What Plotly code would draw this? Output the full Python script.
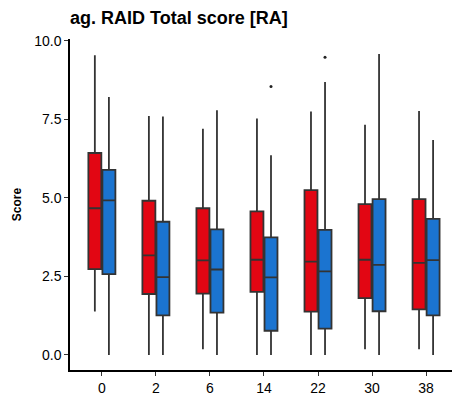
import plotly.graph_objects as go

categories = ["0", "2", "6", "14", "22", "30", "38"]

# Red series (first group)
red_low = [1.38, 0.0, 0.18, 0.0, 0.0, 0.18, 0.18]
red_q1 = [2.73, 1.94, 1.95, 2.01, 1.38, 1.81, 1.45]
red_med = [4.67, 3.17, 3.01, 3.03, 2.97, 3.03, 2.93]
red_q3 = [6.43, 4.91, 4.67, 4.57, 5.25, 4.80, 4.96]
red_high = [9.54, 7.61, 7.20, 7.53, 7.75, 7.33, 7.77]

# Blue series (second group)
blue_low = [0.0, 0.0, 0.0, 0.0, 0.0, 0.0, 0.0]
blue_q1 = [2.57, 1.26, 1.35, 0.77, 0.84, 1.39, 1.26]
blue_med = [4.92, 2.48, 2.72, 2.47, 2.66, 2.87, 3.02]
blue_q3 = [5.89, 4.24, 4.00, 3.74, 3.98, 4.96, 4.33]
blue_high = [8.21, 7.59, 7.79, 6.36, 8.69, 9.58, 6.84]

# Outliers (blue series)
outlier_cat = ["14", "22"]
outlier_val = [8.55, 9.48]

RED = "#E20613"
BLUE = "#1B74D0"
EDGE = "#333333"
dodge = 0.13
bw = 0.24

idx = {c: i for i, c in enumerate(categories)}

fig = go.Figure()
for lows, q1s, meds, q3s, highs, col, sgn in [
    (red_low, red_q1, red_med, red_q3, red_high, RED, -1),
    (blue_low, blue_q1, blue_med, blue_q3, blue_high, BLUE, 1),
]:
    fig.add_trace(go.Box(
        x=[idx[c] + sgn * dodge for c in categories],
        q1=q1s, median=meds, q3=q3s, lowerfence=lows, upperfence=highs,
        fillcolor=col, line=dict(color=EDGE, width=1.8),
        width=bw, whiskerwidth=0, boxpoints=False, showlegend=False,
    ))

fig.add_trace(go.Scatter(
    x=[idx[c] + dodge for c in outlier_cat], y=outlier_val, mode="markers",
    marker=dict(color="#222222", size=3), showlegend=False,
))

fig.update_layout(
    width=452, height=396,
    margin=dict(l=70, r=0, t=39, b=26),
    paper_bgcolor="white", plot_bgcolor="white",
    font=dict(family="Liberation Sans, Arial, sans-serif", color="#000000"),
    boxmode="overlay",
    title=dict(text="<b>ag. RAID Total score [RA]</b>", x=70/452, xanchor="left",
               xref="container", y=1 - 18/396, yanchor="middle", yref="container",
               font=dict(size=18, color="#000000")),
    xaxis=dict(range=[-0.59, 6.48], tickmode="array",
               tickvals=list(range(len(categories))), ticktext=categories,
               showgrid=False, zeroline=False, showline=True,
               linecolor="#000000", linewidth=1.5, ticks="outside",
               ticklen=4, tickcolor="#333333", tickwidth=1.3,
               tickfont=dict(size=14, color="#000000")),
    yaxis=dict(range=[-0.48, 10.06], tickvals=[0, 2.5, 5, 7.5, 10],
               ticktext=["0.0", "2.5", "5.0", "7.5", "10.0"],
               showgrid=False, zeroline=False, showline=True,
               linecolor="#000000", linewidth=1.5, ticks="outside",
               ticklen=4, tickcolor="#333333", tickwidth=1.3,
               tickfont=dict(size=14, color="#000000"),
               title=dict(text="<b>Score</b>", font=dict(size=12, color="#000000"),
                          standoff=10)),
)

fig.write_html("out.html")
